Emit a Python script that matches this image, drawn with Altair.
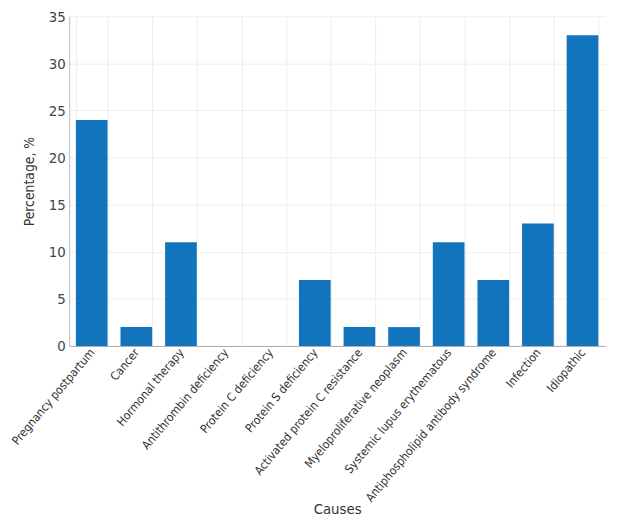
import altair as alt
import pandas as pd

causes = [
    "Pregnancy postpartum",
    "Cancer",
    "Hormonal therapy",
    "Antithrombin deficiency",
    "Protein C deficiency",
    "Protein S deficiency",
    "Activated protein C resistance",
    "Myeloproliferative neoplasm",
    "Systemic lupus erythematous",
    "Antiphospholipid antibody syndrome",
    "Infection",
    "Idiopathic",
]
percentages = [24, 2, 11, 0, 0, 7, 2, 2, 11, 7, 13, 33]
y_ticks = [0, 5, 10, 15, 20, 25, 30, 35]

df = pd.DataFrame({"Cause": causes, "Percentage": percentages})

FONT = "DejaVu Sans Condensed, Open Sans, sans-serif"

chart = (
    alt.Chart(df)
    .mark_bar(color="#1174bc")
    .encode(
        x=alt.X(
            "Cause:N",
            sort=causes,
            title="Causes",
            scale=alt.Scale(paddingInner=0.29, paddingOuter=0.15),
            axis=alt.Axis(
                labelAngle=-50,
                labelAlign="right",
                labelBaseline="middle",
                labelFontSize=12,
                labelColor="#333333",
                labelFont=FONT,
                labelPadding=4,
                labelLimit=0,
                ticks=False,
                grid=True,
                tickBand="extent",
                gridColor="#eeeeee",
                domainColor="#aaaaaa",
                titleFont=FONT,
                titleFontSize=15,
                titleFontWeight="normal",
                titleColor="#333333",
                titleBaseline="alphabetic",
                titleY=170,
            ),
        ),
        y=alt.Y(
            "Percentage:Q",
            title="Percentage, %",
            scale=alt.Scale(domain=[0, 35], nice=False),
            axis=alt.Axis(
                values=y_ticks,
                labelFontSize=15,
                labelColor="#444444",
                labelFont=FONT,
                labelPadding=4,
                ticks=False,
                gridColor="#eeeeee",
                domainColor="#bbbbbb",
                titleFont=FONT,
                titleFontSize=14,
                titleFontWeight="normal",
                titleColor="#333333",
                titlePadding=12,
            ),
        ),
    )
    .properties(
        width=543,
        height=334,
        padding={"left": 62, "top": 5, "right": 4, "bottom": 176},
        autosize="none",
    )
    .configure_view(stroke=None)
)

chart.save("out.html", embed_options={"renderer": "svg", "actions": False})
